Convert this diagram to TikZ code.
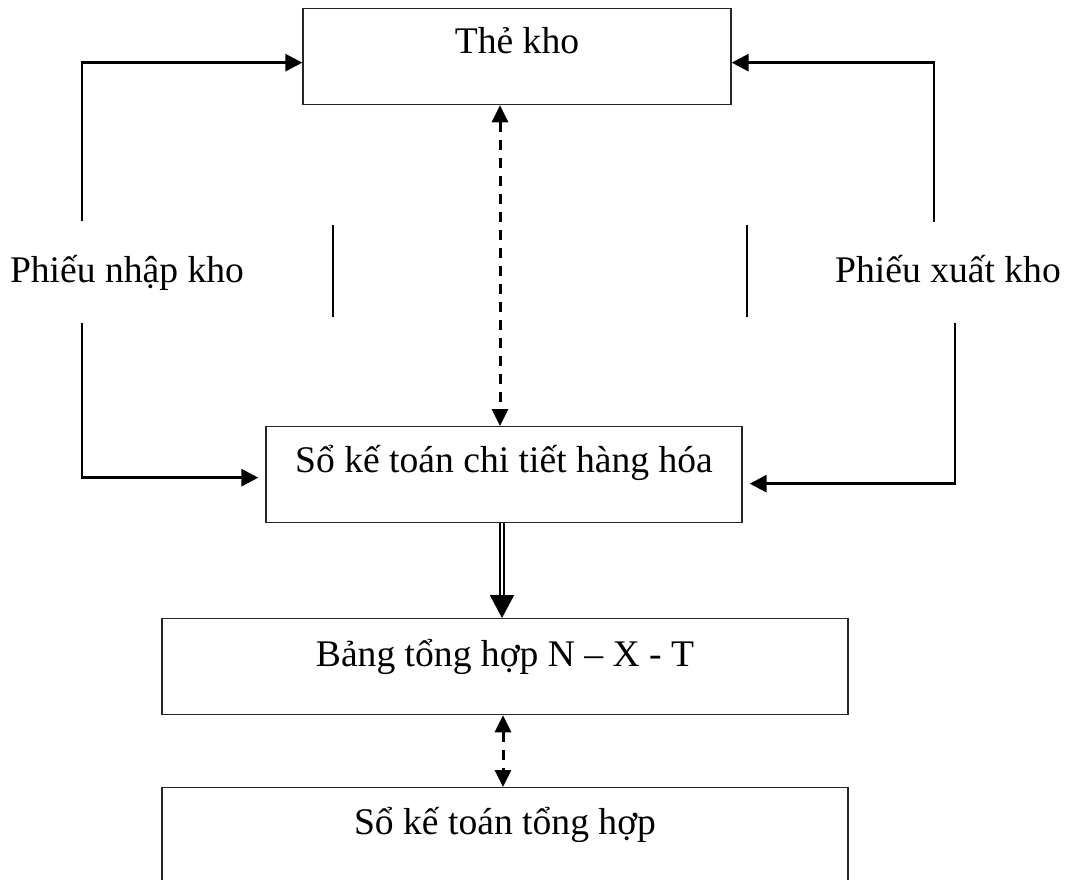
\documentclass[tikz,border=0pt]{standalone}
\usepackage{fontspec}
\setmainfont{Liberation Serif}
\usetikzlibrary{arrows.meta,calc,positioning}
\begin{document}
\begin{tikzpicture}[x=1pt, y=-1pt]
	\tikzstyle{every node} = [font=\fontsize{37.6}{45}\selectfont]
	\tikzstyle{box} = [draw=black!85, line width=1.3pt, inner sep=0pt, text height=46pt, text depth=50pt, anchor=north]
	\tikzstyle{line} = [line width=2.8pt]
	\tikzstyle{arr} = [line width=2.8pt, -{Triangle[length=17pt, width=17pt]}]
	\tikzstyle{dasharr} = [line width=3pt, dash pattern=on 10pt off 8pt, {Triangle[length=17pt, width=16pt]}-{Triangle[length=17pt, width=16pt]}]
	\tikzstyle{dblarr} = [double, double distance=2.5pt, line width=2pt, -{Triangle[length=23pt, width=24pt]}]
\useasboundingbox (0,0) rectangle (1074,879);
\clip (0,0) rectangle (1074,879);
\node[box, minimum width=428pt, text height=45pt, text depth=51pt] (1) at (517,8) {Thẻ kho};
\node[box, minimum width=476pt] (2) at (504,426) {Sổ kế toán chi tiết hàng hóa};
\node[box, minimum width=686pt, text height=48pt, text depth=48pt] (3) at (505,618) {Bảng tổng hợp N – X - T};
\node[box, minimum width=686pt, text height=47pt, text depth=63pt] (4) at (505,787) {Sổ kế toán tổng hợp};

\node[anchor=base] (5) at (127,282) {Phiếu nhập kho};
\node[anchor=base] (6) at (948,282) {Phiếu xuất kho};

\coordinate (n1) at (82,221);
\coordinate (n2) at (82,323);
\coordinate (x1) at (934,222);
\coordinate (x2) at (955,323);
\coordinate (d1) at (500,0);
\coordinate (d2) at (502,0);
\coordinate (d3) at (503,0);

	\draw[arr] (n1) |- ([yshift=-6pt]1.west);
	\draw[arr] (x1) |- ([yshift=-6pt]1.east);
	\draw[arr, shorten >=7pt] (n2) |- ([yshift=-3pt]2.west);
	\draw[arr, shorten >=7pt] (x2) |- ([yshift=-9pt]2.east);
	\draw[dasharr] (1.south -| d1) -- (2.north -| d1);
	\draw[dblarr] (2.south -| d2) -- (3.north -| d2);
	\draw[dasharr] (3.south -| d3) -- (4.north -| d3);
	\draw[line] (333,225) -- (333,317);
	\draw[line] (747,225) -- (747,317);
\end{tikzpicture}
\end{document}
